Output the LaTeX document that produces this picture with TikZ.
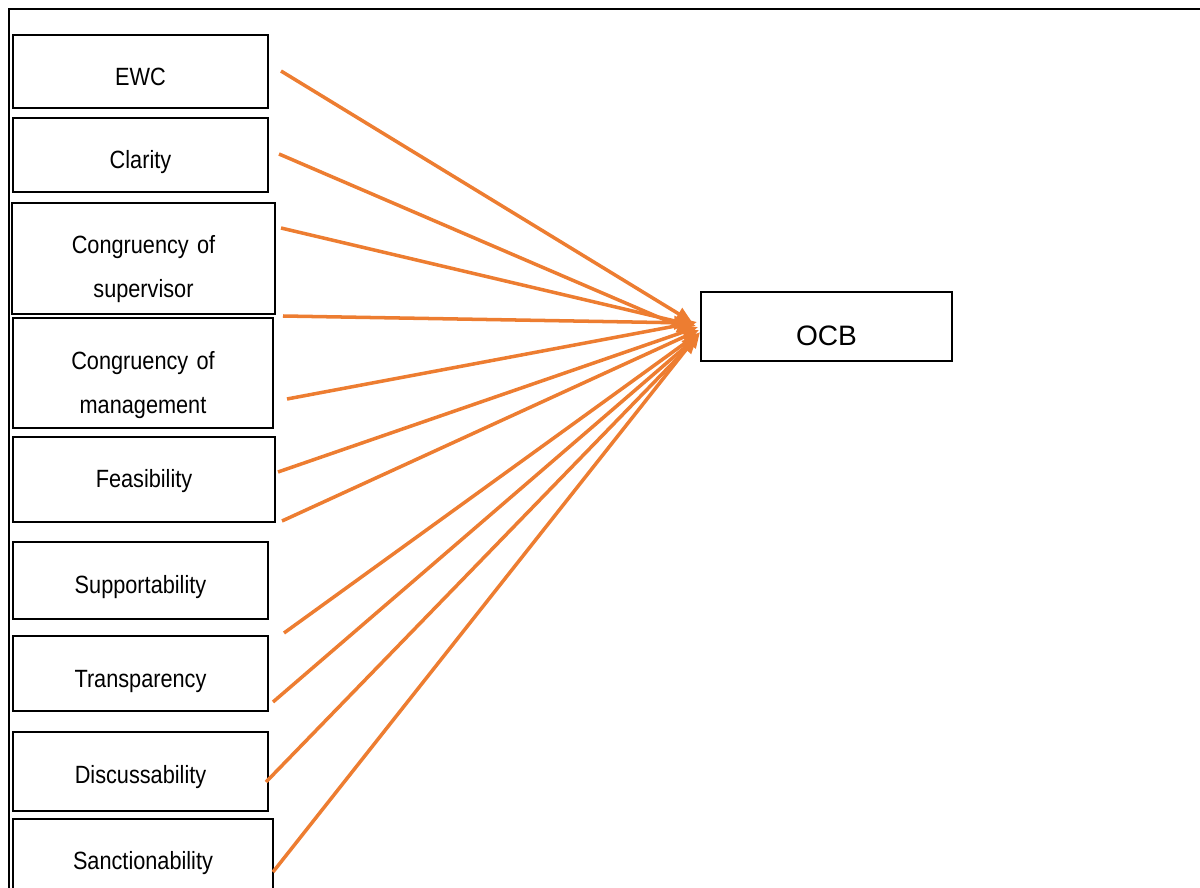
\documentclass[tikz,border=0pt]{standalone}
\usepackage{fontspec}
\setmainfont{Liberation Sans}
\newfontfamily\narrowfont[FakeStretch=0.87]{Liberation Sans}
\usetikzlibrary{arrows.meta}
\definecolor{arrorange}{HTML}{ED7D31}
\tikzset{
        factor/.style={draw, line width=1.6pt, inner sep=0pt, outer sep=0pt},
        factortext/.style={anchor=base, inner sep=0pt, text width=5cm, align=center, font=\narrowfont\fontsize{14.2}{25}\selectfont},
        link/.style={draw=arrorange, line width=2pt, -{Triangle[length=9pt,width=7.5pt]}}
}

\begin{document}
\begin{tikzpicture}[x=0.02cm,y=-0.02cm]
        \clip (0,0) rectangle (1200,888);
        \draw[line width=1.5pt] (9,888) -- (9,9) -- (1200,9);

        \node[factor, minimum width=5.1cm, minimum height=1.46cm] (ewc) at (140.5,71.5) {};
        \node[factor, minimum width=5.1cm, minimum height=1.48cm] (cla) at (140.5,155) {};
        \node[factor, minimum width=5.26cm, minimum height=2.22cm] (sup) at (143.5,258.5) {};
        \node[factor, minimum width=5.2cm, minimum height=2.2cm] (mgt) at (143,373) {};
        \node[factor, minimum width=5.24cm, minimum height=1.7cm] (fea) at (144,479.5) {};
        \node[factor, minimum width=5.1cm, minimum height=1.54cm] (spt) at (140.5,580.5) {};
        \node[factor, minimum width=5.1cm, minimum height=1.5cm] (tra) at (140.5,673.5) {};
        \node[factor, minimum width=5.1cm, minimum height=1.58cm] (dis) at (140.5,771.5) {};
        \node[factor, minimum width=5.2cm, minimum height=2cm] (san) at (143,869) {};
        \node[factor, minimum width=5.02cm, minimum height=1.38cm] (ocb) at (826.5,326.5) {};

        \node[factortext] (ewc-t) at ([yshift=-1.02cm]ewc.north) {EWC};
        \node[factortext] (cla-t) at ([yshift=-1.02cm]cla.north) {Clarity};
        \node[factortext] (sup-t) at ([yshift=-1.02cm]sup.north) {Congruency of\\supervisor};
        \node[factortext] (mgt-t) at ([yshift=-1.04cm]mgt.north) {Congruency of\\management};
        \node[factortext] (fea-t) at ([yshift=-1.02cm]fea.north) {Feasibility};
        \node[factortext] (spt-t) at ([yshift=-1.02cm]spt.north) {Supportability};
        \node[factortext] (tra-t) at ([yshift=-1.02cm]tra.north) {Transparency};
        \node[factortext] (dis-t) at ([yshift=-1.02cm]dis.north) {Discussability};
        \node[factortext] (san-t) at ([yshift=-1.0cm]san.north) {Sanctionability};
        \node[anchor=base, inner sep=0pt, font=\fontsize{16}{19}\selectfont] (ocb-t) at ([yshift=-1.08cm]ocb.north) {OCB};

        \coordinate (ewc-o) at (281,71);
        \coordinate (cla-o) at (279,154);
        \coordinate (sup-o) at (281,228);
        \coordinate (mgt-o1) at (283,316);
        \coordinate (mgt-o2) at (287,399);
        \coordinate (fea-o1) at (278,472);
        \coordinate (fea-o2) at (282,521);
        \coordinate (tra-o1) at (284,633);
        \coordinate (tra-o2) at (273,702);
        \coordinate (dis-o) at (266,782);
        \coordinate (san-o) at (273,872);

        \coordinate (ewc-i) at ([shift={(-9,-4.5)}]ocb.west);
        \coordinate (cla-i) at ([shift={(-8,5.5)}]ocb.west);
        \coordinate (sup-i) at ([shift={(-5,-0.5)}]ocb.west);
        \coordinate (mgt-i1) at ([shift={(-11,-3.5)}]ocb.west);
        \coordinate (mgt-i2) at ([shift={(-4,-4.5)}]ocb.west);
        \coordinate (fea-i1) at ([shift={(-3,0.5)}]ocb.west);
        \coordinate (fea-i2) at ([shift={(-2,3.5)}]ocb.west);
        \coordinate (tra-i1) at ([shift={(-2,6.5)}]ocb.west);
        \coordinate (tra-i2) at ([shift={(-3,9.5)}]ocb.west);
        \coordinate (dis-i) at ([shift={(-4,11.5)}]ocb.west);
        \coordinate (san-i) at ([shift={(-1,5.5)}]ocb.west);

        \foreach \a/\b in {ewc-o/ewc-i, cla-o/cla-i, sup-o/sup-i, mgt-o1/mgt-i1, mgt-o2/mgt-i2, fea-o1/fea-i1, fea-o2/fea-i2, tra-o1/tra-i1, tra-o2/tra-i2, dis-o/dis-i, san-o/san-i}
                \draw[link] (\a) -- (\b);
\end{tikzpicture}
\end{document}
